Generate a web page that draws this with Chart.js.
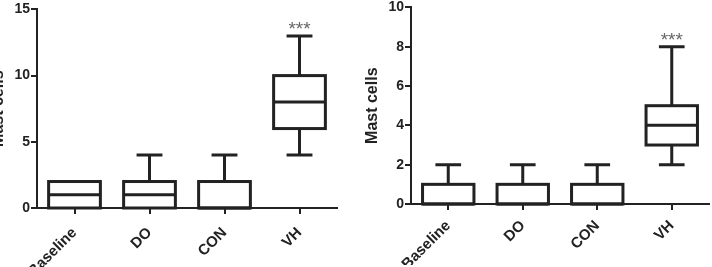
<!DOCTYPE html>
<html>
<head>
<meta charset="utf-8">
<script src="https://cdn.jsdelivr.net/npm/chart.js@4"></script>
<style>
  html, body { margin: 0; padding: 0; background: #fff; overflow: hidden; width: 712px; height: 267px; }
  canvas { position: absolute; }
  #graficoEsquerda { left: -19px; top: 0px; }
  #graficoDireita { left: 355px; top: -2px; }
</style>
</head>
<body>
<canvas id="graficoEsquerda" width="360" height="267"></canvas>
<canvas id="graficoDireita" width="358" height="267"></canvas>
<script>
const categorias = ["Baseline", "DO", "CON", "VH"];

// painel esquerdo
const esqMin = [0, 0, 0, 4];
const esqQ1 = [0, 0, 0, 6];
const esqMediana = [1, 1, 0, 8];
const esqQ3 = [2, 2, 2, 10];
const esqMax = [2, 4, 4, 13];
const esqTicks = [0, 5, 10, 15];

// painel direito
const dirMin = [0, 0, 0, 2];
const dirQ1 = [0, 0, 0, 3];
const dirMediana = [0, 0, 0, 4];
const dirQ3 = [1, 1, 1, 5];
const dirMax = [2, 2, 2, 8];
const dirTicks = [0, 2, 4, 6, 8, 10];

const significancia = ["", "", "", "***"];

const corEixo = "#222";
const fonteBase = "'Liberation Sans', Arial, sans-serif";

// desenha contorno da caixa, medianas, bigodes e asteriscos usando as escalas do grafico
const pluginBoxplot = {
  id: "boxplot",
  afterDatasetsDraw(chart) {
    const { ctx, scales } = chart;
    const dados = chart.config.options.plugins.boxplot;
    const meta = chart.getDatasetMeta(0);
    const x = scales.x;
    const y = scales.y;

    ctx.save();
    ctx.strokeStyle = corEixo;
    ctx.lineWidth = 3;
    ctx.lineCap = "butt";
    ctx.lineJoin = "miter";

    meta.data.forEach((barra, i) => {
      const cx = x.getPixelForValue(i);
      const meia = barra.width / 2;
      const cap = barra.width / 4;

      const yMed = y.getPixelForValue(dados.mediana[i]);
      const yQ1 = y.getPixelForValue(dados.q1[i]);
      const yQ3 = y.getPixelForValue(dados.q3[i]);
      const yMin = y.getPixelForValue(dados.min[i]);
      const yMax = y.getPixelForValue(dados.max[i]);

      ctx.strokeRect(cx - meia, yQ3, meia * 2, yQ1 - yQ3);

      ctx.beginPath();
      ctx.moveTo(cx - meia, yMed);
      ctx.lineTo(cx + meia, yMed);
      ctx.stroke();

      if (dados.max[i] > dados.q3[i]) {
        ctx.beginPath();
        ctx.moveTo(cx, yQ3);
        ctx.lineTo(cx, yMax);
        ctx.moveTo(cx - cap, yMax);
        ctx.lineTo(cx + cap, yMax);
        ctx.stroke();
      }
      if (dados.min[i] < dados.q1[i]) {
        ctx.beginPath();
        ctx.moveTo(cx, yQ1);
        ctx.lineTo(cx, yMin);
        ctx.moveTo(cx - cap, yMin);
        ctx.lineTo(cx + cap, yMin);
        ctx.stroke();
      }

      if (significancia[i]) {
        ctx.fillStyle = "#666";
        ctx.font = "19px " + fonteBase;
        ctx.textAlign = "center";
        ctx.textBaseline = "alphabetic";
        ctx.fillText(significancia[i], cx, yMax - 1);
      }
    });

    ctx.restore();
  }
};

function criarGrafico(id, q1, q3, mediana, min, max, ticks, alturaX, folgaRotulo) {
  const ctx = document.getElementById(id).getContext("2d");

  return new Chart(ctx, {
    type: "bar",
    data: {
      labels: categorias,
      datasets: [{
        data: categorias.map((c, i) => [q1[i], q3[i]]),
        backgroundColor: "#fff",
        borderWidth: 0,
        barPercentage: 0.69,
        categoryPercentage: 1
      }]
    },
    options: {
      responsive: false,
      animation: false,
      events: [],
      layout: {
        padding: { top: 8, right: 4, left: 0, bottom: 0 }
      },
      plugins: {
        legend: { display: false },
        tooltip: { enabled: false },
        boxplot: { q1: q1, q3: q3, mediana: mediana, min: min, max: max }
      },
      scales: {
        x: {
          offset: true,
          grid: {
            offset: false,
            drawOnChartArea: false,
            drawTicks: true,
            tickLength: 6,
            color: corEixo,
            lineWidth: 2
          },
          border: { display: true, color: corEixo, width: 2 },
          ticks: {
            autoSkip: false,
            maxRotation: 45,
            minRotation: 45,
            padding: folgaRotulo,
            color: corEixo,
            font: { family: fonteBase, size: 15, weight: "bold" }
          },
          afterFit(scale) {
            scale.height = alturaX;
          }
        },
        y: {
          min: ticks[0],
          max: ticks[ticks.length - 1],
          afterBuildTicks(scale) {
            scale.ticks = ticks.map(v => ({ value: v }));
          },
          grid: {
            drawOnChartArea: false,
            drawTicks: true,
            tickLength: 6,
            color: corEixo,
            lineWidth: 2
          },
          border: { display: true, color: corEixo, width: 2 },
          ticks: {
            padding: 1,
            color: corEixo,
            font: { family: fonteBase, size: 14, weight: "bold" }
          },
          title: {
            display: true,
            text: "Mast cells",
            color: corEixo,
            padding: { top: 8, bottom: 0 },
            font: { family: fonteBase, size: 16, weight: "bold" }
          },
          afterFit(scale) {
            scale.width = 56;
          }
        }
      }
    },
    plugins: [pluginBoxplot]
  });
}

criarGrafico("graficoEsquerda", esqQ1, esqQ3, esqMediana, esqMin, esqMax, esqTicks, 59, 10);
criarGrafico("graficoDireita", dirQ1, dirQ3, dirMediana, dirMin, dirMax, dirTicks, 61, 7);
</script>
</body>
</html>
